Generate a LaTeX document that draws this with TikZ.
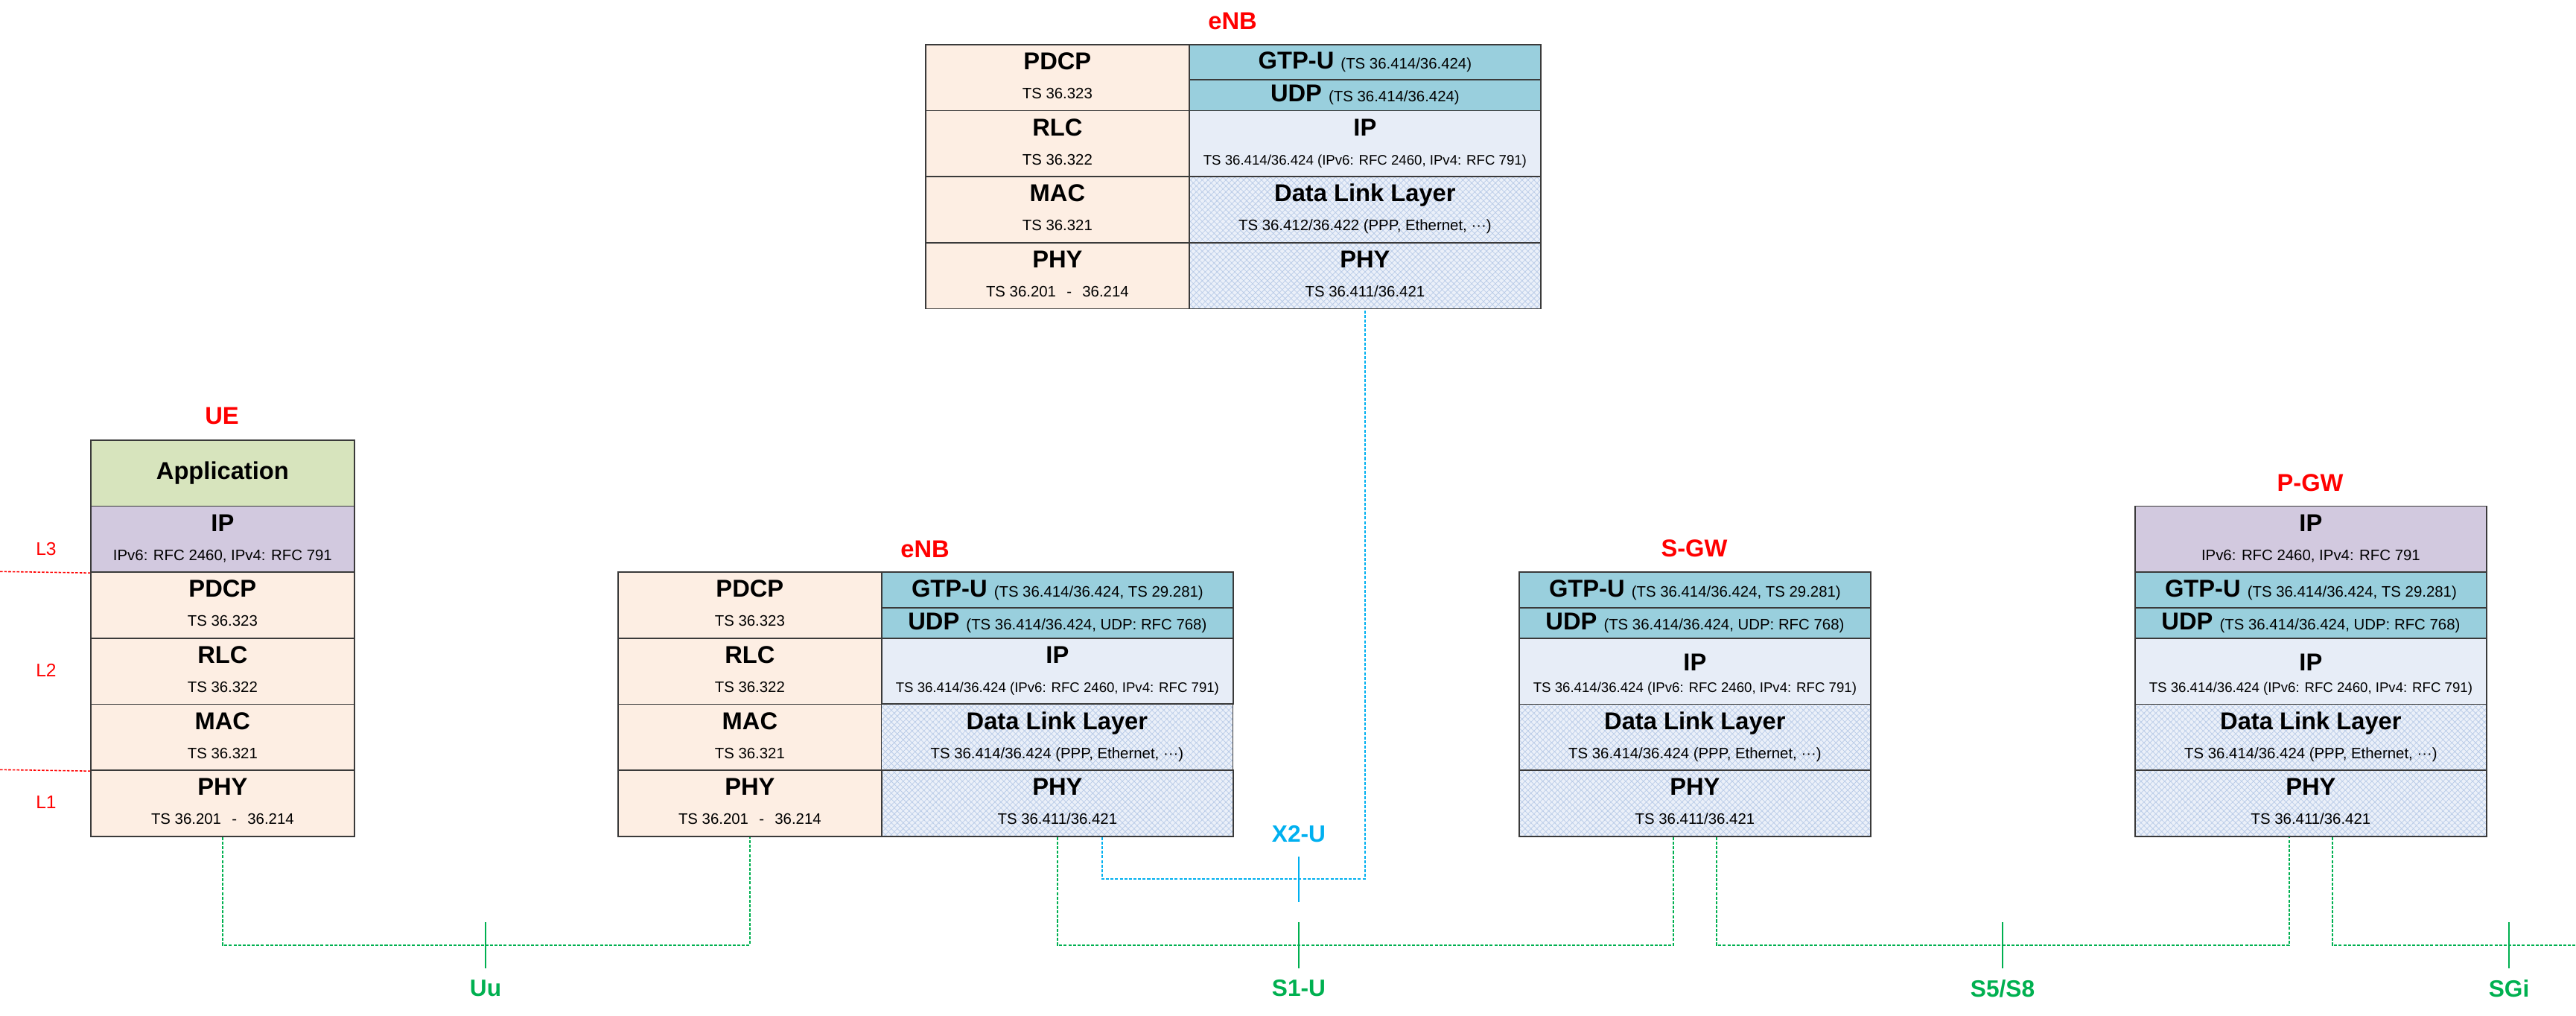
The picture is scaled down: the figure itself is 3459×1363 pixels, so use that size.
\documentclass[tikz,border=0pt]{standalone}
\usepackage{fontspec}
\setmainfont{Liberation Sans}
\usetikzlibrary{positioning,patterns.meta}

\definecolor{peach}{HTML}{FDEEE3}
\definecolor{tunnelblue}{HTML}{99CFDD}
\definecolor{iplight}{HTML}{E7EDF7}
\definecolor{hatchbase}{HTML}{EBF0F9}
\definecolor{hatchline}{HTML}{BACCE8}
\definecolor{appgreen}{HTML}{D7E4BD}
\definecolor{ippurple}{HTML}{D2C9DF}
\definecolor{cellline}{HTML}{3A3A3A}
\definecolor{ifgreen}{HTML}{00B050}
\definecolor{ifblue}{HTML}{00B0F0}

\newcommand{\ttlf}{\bfseries\fontsize{9.3}{11}\selectfont}
\newcommand{\spcf}{\fontsize{5.8}{7}\selectfont}
\newcommand{\spcs}{\fontsize{5.3}{6.5}\selectfont}
\newcommand{\rng}{\hspace{0.7em}-\hspace{0.7em}}

% one protocol layer: [title drop] name, style, x, y, width (mm), title
\newcommand{\cell}[7][3.45mm]{%
  \node[#3, minimum width=#6mm, minimum height=8.867mm] (#2) at (#4,#5) {};
  \node[ttl] (#2-t) at ([yshift=-#1]#2.north) {#7};
}
\newcommand{\spec}[2]{%
  \node[spc] (#1-s) at ([yshift=-7.35mm]#1.north) {#2};
}

\begin{document}
\begin{tikzpicture}[
x=0.1mm, y=-0.1mm,
cell/.style={draw=cellline, line width=0.5pt, inner sep=0pt, anchor=north west},
radio/.style={cell, fill=peach},
app/.style={cell, fill=appgreen},
ipue/.style={cell, fill=ippurple},
tunnel/.style={cell, fill=tunnelblue, font=\ttlf},
transport/.style={cell, fill=iplight},
hatched/.style={cell, preaction={fill=hatchbase},
  pattern={Hatch[angle=45,distance=1.6pt,line width=0.22pt]}, pattern color=hatchline},
ttl/.style={font=\ttlf, anchor=base, inner sep=0pt},
spc/.style={font=\spcf, anchor=base, inner sep=0pt},
nename/.style={font=\bfseries\fontsize{9.3}{11}\selectfont, text=red},
lvl/.style={font=\fontsize{7}{8}\selectfont, text=red},
ifname/.style={font=\bfseries\fontsize{9}{11}\selectfont, text=ifgreen},
air/.style={draw=ifgreen, line width=0.5pt, dash pattern=on 1.15pt off 0.6pt},
x2link/.style={draw=ifblue, line width=0.5pt, dash pattern=on 1.15pt off 0.6pt},
tick/.style={draw=ifgreen, line width=0.65pt},
layerline/.style={draw=red, line width=0.45pt, dash pattern=on 1pt off 0.6pt}
]
    \useasboundingbox (0,0) rectangle (3459,1363);

    % UE
    \node[nename] (ue-name) at (298,558) {UE};
    \node[app, minimum width=35.4mm, minimum height=8.867mm, font=\ttlf] (ue-app) at (121,590) {Application};
    \cell{ue-ip}{ipue}{121}{678.7}{35.4}{IP}
    \spec{ue-ip}{IPv6: RFC 2460, IPv4: RFC 791}
    \cell{ue-pdcp}{radio}{121}{767.3}{35.4}{PDCP}
    \spec{ue-pdcp}{TS 36.323}
    \cell{ue-rlc}{radio}{121}{856}{35.4}{RLC}
    \spec{ue-rlc}{TS 36.322}
    \cell{ue-mac}{radio}{121}{944.7}{35.4}{MAC}
    \spec{ue-mac}{TS 36.321}
    \cell{ue-phy}{radio}{121}{1033.3}{35.4}{PHY}
    \spec{ue-phy}{TS 36.201\rng36.214}

    % layer marks
    \draw[layerline] (0,767.3) -- (ue-ip.south west);
    \draw[layerline] (0,1033.3) -- (ue-mac.south west);
    \node[lvl] (l3) at (62,737) {L3};
    \node[lvl] (l2) at (62,900) {L2};
    \node[lvl] (l1) at (62,1077) {L1};

    % eNB (Uu / S1-U side)
    \node[nename] (enb-name) at (1242,737) {eNB};
    \cell{enb-pdcp}{radio}{829}{767.3}{35.4}{PDCP}
    \spec{enb-pdcp}{TS 36.323}
    \cell{enb-rlc}{radio}{829}{856}{35.4}{RLC}
    \spec{enb-rlc}{TS 36.322}
    \cell{enb-mac}{radio}{829}{944.7}{35.4}{MAC}
    \spec{enb-mac}{TS 36.321}
    \cell{enb-phy}{radio}{829}{1033.3}{35.4}{PHY}
    \spec{enb-phy}{TS 36.201\rng36.214}
    \node[tunnel, minimum width=47.2mm, minimum height=4.77mm] (enb-gtp) at (1183,767.3)
        {GTP-U {\mdseries\spcf(TS 36.414/36.424, TS 29.281)}};
    \node[tunnel, minimum width=47.2mm, minimum height=4.1mm] (enb-udp) at (1183,815)
        {UDP {\mdseries\spcf(TS 36.414/36.424, UDP: RFC 768)}};
    \cell{enb-ip}{transport}{1183}{856}{47.2}{IP}
    \spec{enb-ip}{\spcs TS 36.414/36.424 (IPv6: RFC 2460, IPv4: RFC 791)}
    \cell{enb-dll}{hatched}{1183}{944.7}{47.2}{Data Link Layer}
    \spec{enb-dll}{TS 36.414/36.424 (PPP, Ethernet, ···)}
    \cell{enb-l1}{hatched}{1183}{1033.3}{47.2}{PHY}
    \spec{enb-l1}{TS 36.411/36.421}

    % eNB (X2-U peer)
    \node[nename] (tenb-name) at (1655,28) {eNB};
    \cell{tenb-pdcp}{radio}{1242}{59}{35.4}{PDCP}
    \spec{tenb-pdcp}{TS 36.323}
    \cell{tenb-rlc}{radio}{1242}{147.7}{35.4}{RLC}
    \spec{tenb-rlc}{TS 36.322}
    \cell{tenb-mac}{radio}{1242}{236.3}{35.4}{MAC}
    \spec{tenb-mac}{TS 36.321}
    \cell{tenb-phy}{radio}{1242}{325}{35.4}{PHY}
    \spec{tenb-phy}{TS 36.201\rng36.214}
    \node[tunnel, minimum width=47.2mm, minimum height=4.7mm] (tenb-gtp) at (1596,59)
        {GTP-U {\mdseries\spcf(TS 36.414/36.424)}};
    \node[tunnel, minimum width=47.2mm, minimum height=4.17mm] (tenb-udp) at (1596,106)
        {UDP {\mdseries\spcf(TS 36.414/36.424)}};
    \cell{tenb-ip}{transport}{1596}{147.7}{47.2}{IP}
    \spec{tenb-ip}{\spcs TS 36.414/36.424 (IPv6: RFC 2460, IPv4: RFC 791)}
    \cell{tenb-dll}{hatched}{1596}{236.3}{47.2}{Data Link Layer}
    \spec{tenb-dll}{TS 36.412/36.422 (PPP, Ethernet, ···)}
    \cell{tenb-l1}{hatched}{1596}{325}{47.2}{PHY}
    \spec{tenb-l1}{TS 36.411/36.421}

    % S-GW
    \node[nename] (sgw-name) at (2275,736) {S-GW};
    \node[tunnel, minimum width=47.2mm, minimum height=4.77mm] (sgw-gtp) at (2039,767.3)
        {GTP-U {\mdseries\spcf(TS 36.414/36.424, TS 29.281)}};
    \node[tunnel, minimum width=47.2mm, minimum height=4.1mm] (sgw-udp) at (2039,815)
        {UDP {\mdseries\spcf(TS 36.414/36.424, UDP: RFC 768)}};
    \cell[4.4mm]{sgw-ip}{transport}{2039}{856}{47.2}{IP}
    \spec{sgw-ip}{\spcs TS 36.414/36.424 (IPv6: RFC 2460, IPv4: RFC 791)}
    \cell{sgw-dll}{hatched}{2039}{944.7}{47.2}{Data Link Layer}
    \spec{sgw-dll}{TS 36.414/36.424 (PPP, Ethernet, ···)}
    \cell{sgw-phy}{hatched}{2039}{1033.3}{47.2}{PHY}
    \spec{sgw-phy}{TS 36.411/36.421}

    % P-GW
    \node[nename] (pgw-name) at (3102,648) {P-GW};
    \cell{pgw-uip}{ipue}{2866}{678.7}{47.2}{IP}
    \spec{pgw-uip}{IPv6: RFC 2460, IPv4: RFC 791}
    \node[tunnel, minimum width=47.2mm, minimum height=4.77mm] (pgw-gtp) at (2866,767.3)
        {GTP-U {\mdseries\spcf(TS 36.414/36.424, TS 29.281)}};
    \node[tunnel, minimum width=47.2mm, minimum height=4.1mm] (pgw-udp) at (2866,815)
        {UDP {\mdseries\spcf(TS 36.414/36.424, UDP: RFC 768)}};
    \cell[4.4mm]{pgw-ip}{transport}{2866}{856}{47.2}{IP}
    \spec{pgw-ip}{\spcs TS 36.414/36.424 (IPv6: RFC 2460, IPv4: RFC 791)}
    \cell{pgw-dll}{hatched}{2866}{944.7}{47.2}{Data Link Layer}
    \spec{pgw-dll}{TS 36.414/36.424 (PPP, Ethernet, ···)}
    \cell{pgw-phy}{hatched}{2866}{1033.3}{47.2}{PHY}
    \spec{pgw-phy}{TS 36.411/36.421}

    % links
    \coordinate (bus) at (0,1269);
    \coordinate (x2bus) at (0,1180);
    \coordinate (sgi-end) at (3459,1269);
    \coordinate (enb-x2) at ([xshift=6mm]enb-l1.south);
    \coordinate (sgw-in) at ([xshift=-2.9mm]sgw-phy.south);
    \coordinate (sgw-out) at ([xshift=2.9mm]sgw-phy.south);
    \coordinate (pgw-in) at ([xshift=-2.9mm]pgw-phy.south);
    \coordinate (pgw-out) at ([xshift=2.9mm]pgw-phy.south);

    \draw[air] (ue-phy.south) -- (ue-phy.south |- bus) -- (enb-phy.south |- bus) -- (enb-phy.south);
    \draw[air] (enb-l1.south) -- (enb-l1.south |- bus) -- (sgw-in |- bus) -- (sgw-in);
    \draw[air] (sgw-out) -- (sgw-out |- bus) -- (pgw-in |- bus) -- (pgw-in);
    \draw[air] (pgw-out) -- (pgw-out |- bus) -- (sgi-end);
    \draw[x2link] (enb-x2) -- (enb-x2 |- x2bus) -- (tenb-l1.south |- x2bus) -- (tenb-l1.south);

    % interfaces
    \foreach \nm/\x/\txt in {uu/652/Uu, s1/1744/S1-U, s5/2689/S5\slash S8, sgi/3369/SGi}{
        \draw[tick] (\x,1238) coordinate (\nm-a) -- (\x,1300) coordinate (\nm-b);
        \node[ifname] (\nm-name) at (\x,1327) {\txt};
    }
    \draw[tick, draw=ifblue] (1744,1150) coordinate (x2-a) -- (1744,1211) coordinate (x2-b);
    \node[ifname, text=ifblue] (x2-name) at (1744,1120) {X2-U};

\end{tikzpicture}
\end{document}
